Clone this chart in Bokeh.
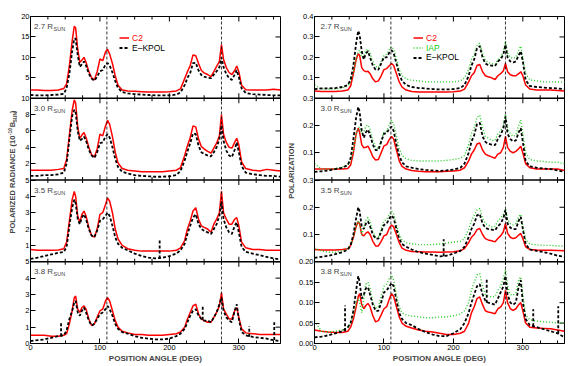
import math
from bokeh.plotting import figure
from bokeh.models import Range1d, LinearAxis, FixedTicker, Span, Label, Legend, LegendItem
from bokeh.core.properties import value
from bokeh.layouts import row
from bokeh.embed import file_html
from bokeh.resources import INLINE

# ---------------- data ----------------
ANGLE = [0, 10, 20, 30, 40,
         48, 52, 56, 60, 63, 65, 68, 71, 74, 77, 80, 84, 88, 92, 96, 100, 104, 108, 111, 114, 118, 122, 126, 132,
         140, 150, 160, 170, 180, 190, 200, 210,
         216, 222, 226, 230, 234, 238, 242, 246, 250, 255, 260, 264, 268, 272, 275, 278, 282, 286, 290, 294, 297, 300, 304, 310,
         320, 330, 340, 350, 360]

RADII = ["2.7", "3.0", "3.5", "3.8"]

# polarized radiance (1e-10 Bsun)
RAD_C2_27 = [2.0, 2.0, 1.9, 1.9, 2.0,
             2.4, 3.5, 8.0, 14.0, 17.6, 17.2, 12.0, 8.8, 9.3, 10.0, 8.8, 6.5, 5.0, 4.5, 6.5, 9.6, 9.2, 11.3, 12.0, 10.8, 8.5, 5.5, 3.2, 2.0,
             1.8, 1.7, 1.6, 1.5, 1.5, 1.5, 1.6, 1.8,
             2.3, 4.8, 6.5, 8.0, 10.6, 10.4, 8.5, 6.8, 6.2, 5.8, 5.3, 6.5, 7.8, 9.0, 13.1, 9.5, 7.5, 6.3, 5.8, 6.8, 7.9, 6.5, 3.2, 2.1,
             2.0, 2.0, 2.0, 2.2, 2.0]
RAD_EK_27 = [0.8, 0.7, 0.7, 0.8, 0.9,
             1.1, 2.5, 6.0, 11.5, 14.6, 14.6, 10.5, 7.7, 8.3, 9.0, 8.0, 6.0, 4.8, 4.3, 5.3, 6.6, 6.9, 8.2, 8.6, 8.0, 6.3, 4.2, 2.5, 1.5,
             1.2, 1.0, 0.9, 0.8, 0.7, 0.7, 0.7, 0.9,
             1.4, 3.2, 5.0, 6.2, 8.6, 8.7, 6.8, 5.7, 5.3, 5.0, 4.9, 5.8, 6.6, 7.6, 10.0, 7.6, 5.9, 4.9, 4.5, 5.8, 6.9, 5.2, 2.4, 1.3,
             1.0, 0.9, 0.8, 0.7, 0.7]
RAD_C2_30 = [1.2, 1.2, 1.2, 1.2, 1.3,
             1.4, 2.5, 5.5, 8.5, 9.8, 9.4, 6.5, 5.1, 5.5, 5.8, 5.2, 4.0, 3.1, 2.8, 3.8, 5.6, 5.4, 6.6, 7.3, 6.8, 5.3, 3.4, 2.1, 1.4,
             1.2, 1.1, 1.0, 1.0, 1.0, 1.0, 1.1, 1.2,
             1.5, 3.0, 4.2, 5.2, 6.6, 6.5, 5.0, 4.1, 3.8, 3.5, 3.3, 3.9, 4.5, 5.4, 8.0, 5.6, 4.6, 4.0, 3.9, 4.6, 5.1, 4.3, 2.2, 1.4,
             1.2, 1.1, 1.3, 1.2, 1.1]
RAD_EK_30 = [0.5, 0.5, 0.6, 0.6, 0.7,
             0.9, 2.0, 5.0, 7.8, 8.6, 8.3, 6.0, 4.8, 5.0, 5.3, 4.8, 3.7, 3.0, 2.7, 3.4, 4.5, 4.6, 5.3, 5.6, 5.2, 4.0, 2.6, 1.6, 1.0,
             0.8, 0.6, 0.5, 0.45, 0.4, 0.4, 0.45, 0.6,
             1.1, 2.4, 3.5, 4.5, 5.7, 5.6, 4.2, 3.4, 3.2, 3.0, 2.9, 3.4, 4.0, 5.0, 6.7, 4.8, 3.6, 3.0, 2.8, 3.7, 4.6, 3.4, 1.7, 0.9,
             0.7, 0.6, 0.5, 0.5, 0.4]
RAD_C2_35 = [0.75, 0.7, 0.7, 0.7, 0.72,
             0.8, 1.2, 2.5, 3.8, 4.3, 4.0, 2.8, 2.4, 2.9, 3.1, 2.8, 2.1, 1.6, 1.5, 2.0, 2.9, 3.0, 3.5, 3.9, 3.7, 3.0, 2.0, 1.4, 1.0,
             0.8, 0.7, 0.65, 0.65, 0.65, 0.65, 0.65, 0.7,
             0.85, 1.3, 2.0, 2.5, 3.1, 3.3, 2.6, 2.2, 2.1, 2.0, 1.8, 2.3, 2.6, 3.0, 4.3, 3.0, 2.6, 2.3, 2.3, 2.6, 2.7, 2.2, 1.2, 0.85,
             0.75, 0.75, 0.7, 0.7, 0.7]
RAD_EK_35 = [0.18, 0.25, 0.35, 0.45, 0.55,
             0.6, 0.9, 2.2, 3.3, 3.8, 3.6, 2.6, 2.3, 2.7, 2.9, 2.6, 2.0, 1.6, 1.5, 1.9, 2.5, 2.6, 2.8, 3.0, 2.8, 2.2, 1.5, 1.1, 0.85,
             0.7, 0.5, 0.35, 0.25, 0.2, 0.25, 0.35, 0.5,
             0.7, 1.1, 1.7, 2.2, 2.7, 2.9, 2.3, 2.0, 1.9, 1.8, 1.7, 2.0, 2.3, 2.8, 3.7, 2.6, 2.1, 1.8, 1.7, 2.2, 2.4, 1.8, 0.9, 0.6,
             0.5, 0.4, 0.3, 0.2, 0.15]
RAD_C2_38 = [0.5, 0.5, 0.5, 0.45, 0.45,
             0.5, 0.6, 1.2, 2.0, 2.8, 2.9, 2.1, 1.9, 2.2, 2.3, 2.1, 1.5, 1.1, 1.2, 1.6, 2.0, 2.1, 2.6, 2.8, 2.6, 2.0, 1.4, 1.0, 0.75,
             0.65, 0.55, 0.55, 0.5, 0.5, 0.5, 0.55, 0.6,
             0.7, 1.0, 1.5, 1.9, 2.3, 2.4, 1.8, 1.5, 1.4, 1.3, 1.3, 1.6, 1.9, 2.3, 3.1, 2.1, 1.8, 1.5, 1.5, 2.0, 2.2, 1.6, 0.9, 0.65,
             0.6, 0.55, 0.55, 0.55, 0.55]
RAD_EK_38 = [0.15, 0.2, 0.25, 0.35, 0.45,
             0.5, 0.8, 1.5, 2.0, 2.5, 2.6, 1.9, 1.7, 2.0, 2.2, 1.9, 1.4, 1.1, 1.2, 1.5, 1.8, 1.9, 2.1, 2.3, 2.1, 1.7, 1.2, 0.9, 0.7,
             0.6, 0.45, 0.35, 0.3, 0.25, 0.25, 0.3, 0.45,
             0.6, 0.9, 1.3, 1.7, 2.0, 2.1, 1.7, 1.5, 1.4, 1.4, 1.3, 1.6, 1.9, 2.4, 2.8, 2.0, 1.6, 1.4, 1.3, 2.0, 2.4, 1.5, 0.7, 0.5,
             0.4, 0.35, 0.3, 0.2, 0.15]

# polarization
POL_C2_27 = [0.035, 0.033, 0.033, 0.033, 0.035,
             0.04, 0.06, 0.12, 0.19, 0.218, 0.21, 0.15, 0.135, 0.13, 0.132, 0.12, 0.095, 0.08, 0.085, 0.11, 0.14, 0.145, 0.16, 0.17, 0.16, 0.12, 0.08, 0.055, 0.04,
             0.033, 0.03, 0.03, 0.03, 0.03, 0.03, 0.032, 0.035,
             0.045, 0.08, 0.11, 0.125, 0.16, 0.165, 0.13, 0.11, 0.105, 0.1, 0.092, 0.11, 0.12, 0.135, 0.17, 0.13, 0.115, 0.11, 0.11, 0.12, 0.13, 0.11, 0.065, 0.045,
             0.04, 0.04, 0.04, 0.038, 0.036]
POL_IAP_27 = [0.065, 0.045, 0.045, 0.045, 0.05,
              0.06, 0.08, 0.13, 0.2, 0.23, 0.235, 0.2, 0.205, 0.235, 0.24, 0.22, 0.18, 0.155, 0.15, 0.18, 0.21, 0.215, 0.24, 0.253, 0.24, 0.19, 0.14, 0.11, 0.095,
              0.088, 0.085, 0.08, 0.08, 0.08, 0.08, 0.08, 0.085,
              0.1, 0.14, 0.19, 0.215, 0.26, 0.27, 0.22, 0.185, 0.175, 0.17, 0.165, 0.19, 0.2, 0.225, 0.28, 0.22, 0.2, 0.195, 0.2, 0.235, 0.255, 0.2, 0.12, 0.09,
              0.085, 0.08, 0.08, 0.08, 0.078]
POL_EK_27 = [0.045, 0.048, 0.048, 0.05, 0.055,
             0.065, 0.09, 0.16, 0.27, 0.33, 0.31, 0.23, 0.19, 0.22, 0.23, 0.2, 0.16, 0.14, 0.14, 0.17, 0.2, 0.2, 0.225, 0.235, 0.22, 0.17, 0.12, 0.085, 0.065,
             0.055, 0.05, 0.048, 0.045, 0.043, 0.043, 0.045, 0.05,
             0.065, 0.11, 0.16, 0.19, 0.245, 0.255, 0.2, 0.17, 0.163, 0.16, 0.158, 0.18, 0.19, 0.215, 0.262, 0.2, 0.18, 0.175, 0.18, 0.21, 0.23, 0.18, 0.09, 0.06,
             0.055, 0.052, 0.05, 0.048, 0.045]
POL_C2_30 = [0.04, 0.04, 0.04, 0.04, 0.04,
             0.042, 0.055, 0.1, 0.17, 0.19, 0.175, 0.13, 0.118, 0.12, 0.124, 0.11, 0.085, 0.073, 0.075, 0.1, 0.125, 0.13, 0.15, 0.16, 0.15, 0.11, 0.07, 0.05, 0.04,
             0.035, 0.032, 0.03, 0.03, 0.03, 0.032, 0.033, 0.036,
             0.045, 0.07, 0.095, 0.11, 0.132, 0.136, 0.11, 0.095, 0.09, 0.085, 0.08, 0.095, 0.1, 0.12, 0.16, 0.12, 0.105, 0.1, 0.105, 0.115, 0.124, 0.1, 0.06, 0.045,
             0.04, 0.04, 0.04, 0.04, 0.035]
POL_IAP_30 = [0.06, 0.04, 0.04, 0.042, 0.048,
              0.055, 0.07, 0.11, 0.17, 0.19, 0.195, 0.17, 0.175, 0.198, 0.202, 0.185, 0.145, 0.12, 0.115, 0.145, 0.175, 0.18, 0.205, 0.22, 0.205, 0.16, 0.115, 0.09, 0.078,
              0.072, 0.07, 0.07, 0.07, 0.07, 0.072, 0.075, 0.08,
              0.09, 0.13, 0.17, 0.19, 0.23, 0.238, 0.19, 0.16, 0.155, 0.145, 0.145, 0.17, 0.18, 0.2, 0.242, 0.19, 0.17, 0.16, 0.165, 0.2, 0.22, 0.17, 0.1, 0.075,
              0.07, 0.068, 0.065, 0.065, 0.06]
POL_EK_30 = [0.03, 0.032, 0.035, 0.04, 0.045,
             0.055, 0.08, 0.15, 0.23, 0.268, 0.25, 0.18, 0.155, 0.175, 0.185, 0.165, 0.13, 0.11, 0.11, 0.14, 0.17, 0.172, 0.19, 0.196, 0.18, 0.13, 0.09, 0.065, 0.05,
             0.045, 0.04, 0.037, 0.035, 0.033, 0.035, 0.038, 0.045,
             0.06, 0.1, 0.14, 0.165, 0.205, 0.21, 0.16, 0.14, 0.133, 0.13, 0.128, 0.15, 0.165, 0.19, 0.233, 0.17, 0.15, 0.142, 0.145, 0.175, 0.19, 0.14, 0.07, 0.05,
             0.045, 0.042, 0.04, 0.035, 0.03]
POL_C2_35 = [0.045, 0.043, 0.043, 0.043, 0.045,
             0.048, 0.06, 0.09, 0.13, 0.147, 0.14, 0.1, 0.095, 0.105, 0.11, 0.1, 0.075, 0.058, 0.058, 0.075, 0.095, 0.1, 0.125, 0.135, 0.128, 0.1, 0.07, 0.05, 0.042,
             0.038, 0.037, 0.036, 0.036, 0.035, 0.036, 0.037, 0.04,
             0.048, 0.07, 0.09, 0.1, 0.118, 0.122, 0.1, 0.085, 0.08, 0.077, 0.073, 0.085, 0.095, 0.11, 0.141, 0.105, 0.09, 0.085, 0.088, 0.098, 0.104, 0.085, 0.055, 0.045,
             0.043, 0.042, 0.042, 0.041, 0.04]
POL_IAP_35 = [0.05, 0.04, 0.035, 0.035, 0.04,
              0.05, 0.06, 0.09, 0.13, 0.15, 0.14, 0.1, 0.125, 0.155, 0.162, 0.145, 0.11, 0.092, 0.092, 0.12, 0.15, 0.155, 0.175, 0.186, 0.175, 0.135, 0.1, 0.08, 0.07,
              0.066, 0.063, 0.063, 0.063, 0.065, 0.068, 0.072, 0.075,
              0.085, 0.12, 0.15, 0.17, 0.19, 0.196, 0.16, 0.14, 0.135, 0.128, 0.13, 0.15, 0.16, 0.175, 0.193, 0.155, 0.14, 0.135, 0.14, 0.165, 0.174, 0.13, 0.08, 0.065,
              0.062, 0.06, 0.06, 0.058, 0.058]
POL_EK_35 = [0.014, 0.018, 0.022, 0.028, 0.035,
             0.045, 0.06, 0.1, 0.16, 0.2, 0.185, 0.13, 0.12, 0.14, 0.148, 0.13, 0.1, 0.085, 0.085, 0.11, 0.135, 0.14, 0.16, 0.17, 0.16, 0.12, 0.085, 0.065, 0.055,
             0.045, 0.035, 0.03, 0.025, 0.02, 0.022, 0.03, 0.04,
             0.055, 0.09, 0.12, 0.14, 0.17, 0.175, 0.14, 0.125, 0.12, 0.118, 0.115, 0.13, 0.14, 0.16, 0.19, 0.14, 0.125, 0.12, 0.12, 0.15, 0.165, 0.12, 0.065, 0.045,
             0.04, 0.035, 0.03, 0.022, 0.018]
POL_C2_38 = [0.033, 0.03, 0.028, 0.027, 0.027,
             0.03, 0.04, 0.06, 0.09, 0.115, 0.122, 0.095, 0.085, 0.093, 0.098, 0.09, 0.068, 0.053, 0.056, 0.07, 0.085, 0.09, 0.11, 0.122, 0.115, 0.09, 0.065, 0.05, 0.042,
             0.038, 0.033, 0.03, 0.028, 0.025, 0.022, 0.022, 0.025,
             0.03, 0.05, 0.075, 0.09, 0.11, 0.114, 0.095, 0.08, 0.077, 0.075, 0.073, 0.085, 0.089, 0.1, 0.13, 0.1, 0.085, 0.081, 0.085, 0.095, 0.1, 0.08, 0.05, 0.04,
             0.038, 0.037, 0.036, 0.033, 0.03]
POL_IAP_38 = [0.055, 0.03, 0.028, 0.03, 0.033,
              0.04, 0.05, 0.07, 0.1, 0.11, 0.1, 0.075, 0.11, 0.145, 0.15, 0.135, 0.1, 0.087, 0.09, 0.115, 0.14, 0.145, 0.16, 0.167, 0.155, 0.12, 0.09, 0.075, 0.07,
              0.067, 0.065, 0.063, 0.063, 0.065, 0.065, 0.068, 0.072,
              0.08, 0.1, 0.13, 0.15, 0.168, 0.171, 0.14, 0.12, 0.116, 0.114, 0.115, 0.13, 0.14, 0.16, 0.181, 0.14, 0.12, 0.118, 0.125, 0.155, 0.163, 0.12, 0.07, 0.058,
              0.055, 0.053, 0.052, 0.05, 0.05]
POL_EK_38 = [0.015, 0.017, 0.02, 0.025, 0.03,
             0.04, 0.05, 0.08, 0.13, 0.165, 0.15, 0.11, 0.12, 0.135, 0.138, 0.12, 0.095, 0.08, 0.08, 0.1, 0.125, 0.13, 0.14, 0.148, 0.14, 0.105, 0.075, 0.06, 0.05,
             0.045, 0.035, 0.028, 0.022, 0.018, 0.018, 0.025, 0.035,
             0.05, 0.075, 0.1, 0.12, 0.14, 0.145, 0.12, 0.105, 0.1, 0.098, 0.095, 0.11, 0.125, 0.14, 0.165, 0.12, 0.1, 0.095, 0.1, 0.14, 0.155, 0.1, 0.06, 0.045,
             0.04, 0.035, 0.03, 0.025, 0.015]

# narrow E-KPOL spikes (panel index, angle, base, top)
RAD_SPIKE_PANEL = [2, 3, 3, 3, 3]
RAD_SPIKE_ANGLE = [186, 44, 248, 315, 351]
RAD_SPIKE_BASE = [0.2, 0.45, 1.45, 0.42, 0.22]
RAD_SPIKE_TOP = [1.3, 1.3, 2.3, 1.05, 1.3]
POL_SPIKE_PANEL = [2, 3, 3, 3, 3]
POL_SPIKE_ANGLE = [186, 44, 248, 315, 351]
POL_SPIKE_BASE = [0.02, 0.03, 0.1, 0.042, 0.025]
POL_SPIKE_TOP = [0.083, 0.093, 0.161, 0.084, 0.091]

RAD_YMAX = [20, 10, 5, 5]
POL_YMAX = [0.4, 0.3, 0.3, 0.2]
RAD_TICKS = [[5, 10, 15, 20], [2, 4, 6, 8, 10], [1, 2, 3, 4, 5], [0, 1, 2, 3, 4, 5]]
RAD_TICK_LABELS = [["5", "10", "15", "20"], ["2", "4", "6", "8", "10"], ["1", "2", "3", "4", "5"], ["0", "1", "2", "3", "4", "5"]]
POL_TICKS = [[0.1, 0.2, 0.3, 0.4], [0.1, 0.2, 0.3], [0.1, 0.2, 0.3], [0.0, 0.05, 0.1, 0.15, 0.2]]
POL_TICK_LABELS = [["0.1", "0.2", "0.3", "0.4"], ["0.1", "0.2", "0.3"], ["0.1", "0.2", "0.3"], ["0.00", "0.05", "0.10", "0.15", "0.20"]]
X_MAJOR = [0, 100, 200, 300]
X_MINOR = [25, 50, 75, 125, 150, 175, 225, 250, 275, 325, 350]
X_LABELS = ["0", "100", "200", "300"]
VLINES = [110, 275]

RAD_SERIES = [[(RAD_C2_27, "C2"), (RAD_EK_27, "EK")],
              [(RAD_C2_30, "C2"), (RAD_EK_30, "EK")],
              [(RAD_C2_35, "C2"), (RAD_EK_35, "EK")],
              [(RAD_C2_38, "C2"), (RAD_EK_38, "EK")]]
POL_SERIES = [[(POL_C2_27, "C2"), (POL_IAP_27, "IAP"), (POL_EK_27, "EK")],
              [(POL_C2_30, "C2"), (POL_IAP_30, "IAP"), (POL_EK_30, "EK")],
              [(POL_C2_35, "C2"), (POL_IAP_35, "IAP"), (POL_EK_35, "EK")],
              [(POL_C2_38, "C2"), (POL_IAP_38, "IAP"), (POL_EK_38, "EK")]]

for grp in RAD_SERIES + POL_SERIES:
    for s, _ in grp:
        assert len(s) == len(ANGLE), len(s)

# ---------------- style ----------------
FONT = "Liberation Sans"
STYLE = {
    "C2": dict(line_color="#ff0000", line_width=1.5),
    "IAP": dict(line_color="#22cc22", line_width=1.4, line_dash="1 2"),
    "EK": dict(line_color="#000000", line_width=1.8, line_dash="3 2"),
}
FRAME_H = 327
NP = 4
UNIT_PX = FRAME_H / NP
STRIP_H = 363
MAJ_LEN, MIN_LEN = 5, 3


def style_axis(ax):
    ax.axis_line_color = "black"
    ax.axis_line_width = 1
    ax.major_tick_in = MAJ_LEN
    ax.major_tick_out = 0
    ax.minor_tick_in = MIN_LEN
    ax.minor_tick_out = 0
    ax.major_tick_line_color = "black"
    ax.minor_tick_line_color = "black"
    ax.major_label_text_font = FONT
    ax.major_label_text_color = "black"
    ax.major_label_text_font_size = "7.5px"
    ax.major_label_standoff = 1


def make_column(series, ymax, ticks, ticklabels, left, right, fw, spikes, label_x_off):
    p = figure(frame_width=fw, frame_height=FRAME_H,
               x_range=Range1d(0, 360), y_range=Range1d(0, NP),
               x_axis_location=None, y_axis_location=None,
               toolbar_location=None, output_backend="svg",
               min_border_left=left, min_border_right=right,
               min_border_top=16, min_border_bottom=8)
    p.grid.visible = False
    p.outline_line_color = "black"
    p.outline_line_width = 1
    p.background_fill_color = "white"
    p.border_fill_color = "white"
    deg_per_px = 360.0 / fw

    ranges = {}
    for k, m in enumerate(ymax):
        start = -(NP - 1 - k) * m
        ranges[f"p{k}"] = Range1d(start=start, end=start + NP * m)
    p.extra_y_ranges = ranges

    xt = FixedTicker(ticks=X_MAJOR, minor_ticks=X_MINOR)
    xax = LinearAxis(ticker=xt, major_label_overrides={t: s for t, s in zip(X_MAJOR, X_LABELS)},
                     axis_label="POSITION ANGLE (DEG)", axis_label_standoff=1,
                     axis_label_text_font=FONT, axis_label_text_font_size="8px",
                     axis_label_text_font_style="bold")
    style_axis(xax)
    p.add_layout(xax, "below")

    ypos, ylab = [], []
    for k, m in enumerate(ymax):
        for v, s in zip(ticks[k], ticklabels[k]):
            ypos.append((NP - 1 - k) + v / m)
            ylab.append(s)
    yax = LinearAxis(ticker=FixedTicker(ticks=ypos, minor_ticks=[]),
                     major_label_overrides=dict(zip(ypos, ylab)))
    style_axis(yax)
    p.add_layout(yax, "left")

    for b in range(1, NP):
        p.add_layout(Span(location=b, dimension="width", line_color="black", line_width=1.4))

    # mirrored / inner tick marks (top edge, every panel boundary, right edge)
    sx0, sy0, sx1, sy1 = [], [], [], []
    for b in range(1, NP + 1):
        for t, ln in [(t, MAJ_LEN) for t in X_MAJOR] + [(t, MIN_LEN) for t in X_MINOR]:
            up = 0 if b == NP else ln / UNIT_PX
            sx0.append(t); sy0.append(b - ln / UNIT_PX); sx1.append(t); sy1.append(b + up)
    for yp in ypos:
        sx0.append(360 - MAJ_LEN * deg_per_px); sy0.append(yp); sx1.append(360); sy1.append(yp)
    p.segment(sx0, sy0, sx1, sy1, line_color="black", line_width=1)

    first = {}
    for k, grp in enumerate(series):
        for vals, key in grp:
            r = p.line(ANGLE, vals, y_range_name=f"p{k}", **STYLE[key])
            if k == 0:
                first[key] = r
    sp, sa, sb, st = spikes
    for k in range(NP):
        xs = [a for pp, a in zip(sp, sa) if pp == k]
        if not xs:
            continue
        y0 = [b for pp, b in zip(sp, sb) if pp == k]
        y1 = [t for pp, t in zip(sp, st) if pp == k]
        p.segment(xs, y0, xs, y1, y_range_name=f"p{k}", **STYLE["EK"])

    for v in VLINES:
        p.add_layout(Span(location=v, dimension="height", line_color="black",
                          line_width=0.8, line_dash="3 2"))

    for k, rr in enumerate(RADII):
        p.add_layout(Label(x=0, y=NP - k, x_offset=label_x_off, y_offset=-10, text=f"{rr} R",
                           text_font=FONT, text_font_size="8px",
                           text_baseline="middle", text_align="left"))
        p.add_layout(Label(x=0, y=NP - k, x_offset=label_x_off + 19.5, y_offset=-12.5, text="SUN",
                           text_font=FONT, text_font_size="5.5px",
                           text_baseline="middle", text_align="left"))
    return p, first


def add_legend(p, renderer, text, color, x, y):
    leg = Legend(items=[LegendItem(label=value(text), renderers=[renderer])],
                 location=(x, y), orientation="vertical",
                 glyph_width=10, glyph_height=9, label_height=9, label_width=10,
                 label_standoff=3, padding=0, margin=0, spacing=0,
                 border_line_alpha=0, background_fill_alpha=0,
                 label_text_font=FONT, label_text_font_size="8.5px",
                 label_text_color=color)
    p.add_layout(leg)


def label_strip(width):
    f = figure(width=width, height=STRIP_H, x_range=Range1d(0, width), y_range=Range1d(0, STRIP_H),
               x_axis_location=None, y_axis_location=None, toolbar_location=None,
               output_backend="svg", min_border=0, outline_line_color=None)
    f.grid.visible = False
    f.border_fill_color = "white"
    f.background_fill_color = "white"
    return f


# left axis title strip (rotated text, pieces for super/subscripts)
sl = label_strip(17)
lab_kw = dict(angle=math.pi / 2, text_font=FONT, text_font_style="bold", text_baseline="middle")
for txt, xx, yy, fs, al in (("POLARIZED RADIANCE (10", 11.5, 230, "7.5px", "right"),
                            ("-10", 9.0, 230.5, "5px", "left"),
                            ("B", 11.5, 239.2, "7.5px", "left"),
                            ("SUN", 14.0, 244.6, "5px", "left"),
                            (")", 11.5, 255.2, "7.5px", "left")):
    sl.add_layout(Label(x=xx, y=yy, text=txt, text_font_size=fs, text_align=al, **lab_kw))

pl, fl = make_column(RAD_SERIES, RAD_YMAX, RAD_TICKS, RAD_TICK_LABELS, 13, 5, 250,
                     (RAD_SPIKE_PANEL, RAD_SPIKE_ANGLE, RAD_SPIKE_BASE, RAD_SPIKE_TOP), 3.5)
add_legend(pl, fl["C2"], "C2", "#ff0000", 89, 300.5)
add_legend(pl, fl["EK"], "E–KPOL", "black", 89, 290.5)

# right axis title strip
sr = label_strip(10)
sr.add_layout(Label(x=6, y=190.5, angle=math.pi / 2, text="POLARIZATION",
                    text_font=FONT, text_font_style="bold", text_font_size="7.5px",
                    text_baseline="middle", text_align="center"))

pr, fr = make_column(POL_SERIES, POL_YMAX, POL_TICKS, POL_TICK_LABELS, 18, 7, 250,
                     (POL_SPIKE_PANEL, POL_SPIKE_ANGLE, POL_SPIKE_BASE, POL_SPIKE_TOP), 6)
add_legend(pr, fr["C2"], "C2", "#ff0000", 99, 300.5)
add_legend(pr, fr["IAP"], "IAP", "#22cc22", 99, 290.5)
add_legend(pr, fr["EK"], "E–KPOL", "black", 99, 281)

layout = row(sl, pl, sr, pr, spacing=0)
open("out.html", "w").write(file_html(layout, INLINE))
